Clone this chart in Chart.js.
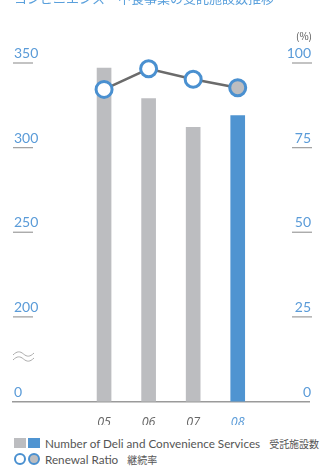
<!DOCTYPE html>
<html>
<head>
<meta charset="utf-8">
<script src="https://cdn.jsdelivr.net/npm/chart.js@4"></script>
<style>
  html, body { margin: 0; padding: 0; background: #fff; }
  #wrap { position: relative; width: 320px; height: 466px; overflow: hidden; }
  #chart { position: absolute; left: 0; top: 0; }
  .legend { position: absolute; left: 14px; font-family: Lato, "Noto Sans", sans-serif; color: #555; font-size: 11.7px; white-space: nowrap; }
  .legend .sw { display: inline-block; vertical-align: middle; }
  .legend .sq { width: 12px; height: 10px; margin-right: 2px; }
  .legend .ring { width: 8px; height: 8px; border: 2.5px solid #4a90d0; border-radius: 50%; margin-right: 2px; }
  .legend .txt { vertical-align: middle; margin-left: 3px; }
  .legend .jp { font-family: "Noto Sans CJK JP", sans-serif; font-size: 10px; margin-left: 9px; vertical-align: middle; }
</style>
</head>
<body>
<div id="wrap">
  <canvas id="chart" width="320" height="425"></canvas>
  <div class="legend" style="top:434px">
    <span class="sw sq" style="background:#bcbdc0"></span><span class="sw sq" style="background:#4f94d1"></span><span class="txt">Number of Deli and Convenience Services</span><span class="jp">受託施設数</span>
  </div>
  <div class="legend" style="top:450px">
    <span class="sw ring" style="background:#fff"></span><span class="sw ring" style="background:#bcbdc0"></span><span class="txt">Renewal Ratio</span><span class="jp">継続率</span>
  </div>
</div>
<script>
// 年度と値
const years = ['05', '06', '07', '08'];
const facilities = [347, 329, 312, 319];
const renewalRatio = [92.2, 98.3, 95.2, 92.7];

// 左軸は 150 で省略（0 と表示）
const leftTicks = [150, 200, 250, 300, 350];
const leftTickLabels = ['0', '200', '250', '300', '350'];
const rightTicks = [0, 25, 50, 75, 100];

const BLUE = '#4f94d1';
const GREY = '#bcbdc0';
const LABEL_BLUE = '#5a9bd8';
const RULE = '#a3a3a3';

const yearX = years.map(y => parseInt(y, 10));

const axisDecor = {
    id: 'axisDecor',
    afterDraw(chart) {
        const ctx = chart.ctx;
        const yL = chart.scales.yL;
        const yR = chart.scales.yR;
        ctx.save();

        // タイトル（上端で切れている）
        ctx.font = '13px "Noto Sans CJK JP"';
        ctx.fillStyle = '#5aa0dc';
        ctx.textAlign = 'left';
        ctx.textBaseline = 'alphabetic';
        ctx.fillText('コンビニエンス・中食事業の受託施設数推移', 14, 3);

        ctx.font = '14px Lato';
        ctx.lineWidth = 1.3;
        ctx.strokeStyle = RULE;

        leftTicks.forEach((v, i) => {
            const y = yL.getPixelForValue(v);
            ctx.fillStyle = LABEL_BLUE;
            ctx.textAlign = 'left';
            ctx.fillText(leftTickLabels[i], 14, y - 5);
            if (i > 0) {
                ctx.beginPath();
                ctx.moveTo(13, y);
                ctx.lineTo(33, y);
                ctx.stroke();
            }
        });

        rightTicks.forEach((v, i) => {
            const y = yR.getPixelForValue(v);
            ctx.fillStyle = LABEL_BLUE;
            ctx.textAlign = 'right';
            ctx.fillText(String(v), 311, y - 5);
            if (i > 0) {
                ctx.beginPath();
                ctx.moveTo(292, y);
                ctx.lineTo(312, y);
                ctx.stroke();
            }
        });

        // 省略記号
        ctx.strokeStyle = '#aaa';
        ctx.lineWidth = 1;
        [354, 359].forEach(y => {
            ctx.beginPath();
            ctx.moveTo(13, y + 1);
            ctx.bezierCurveTo(17, y - 3, 20, y - 3, 23.5, y);
            ctx.bezierCurveTo(27, y + 3, 30, y + 3, 34, y - 1);
            ctx.stroke();
        });

        ctx.font = '10px "Noto Sans CJK JP"';
        ctx.fillStyle = '#555';
        ctx.textAlign = 'right';
        ctx.fillText('(%)', 312, 40);
        ctx.restore();
    }
};

new Chart(document.getElementById('chart'), {
    type: 'bar',
    data: {
        datasets: [{
            type: 'line',
            data: yearX.map((x, i) => ({ x: x, y: renewalRatio[i] })),
            yAxisID: 'yR',
            borderColor: '#6b6b6b',
            borderWidth: 2.5,
            pointRadius: 8,
            pointBorderWidth: 3,
            pointBorderColor: '#4a90d0',
            pointBackgroundColor: ['#fff', '#fff', '#fff', GREY],
            clip: false,
            order: 0
        }, {
            data: yearX.map((x, i) => ({ x: x, y: facilities[i] })),
            yAxisID: 'yL',
            backgroundColor: [GREY, GREY, GREY, BLUE],
            barThickness: 14,
            order: 1
        }]
    },
    options: {
        responsive: false,
        devicePixelRatio: 1,
        animation: false,
        layout: { padding: { left: 13, right: 8, top: 63, bottom: 0 } },
        plugins: { legend: { display: false }, tooltip: { enabled: false } },
        scales: {
            x: {
                type: 'linear',
                offset: false,
                min: 2.956,
                max: 9.6,
                afterBuildTicks: scale => { scale.ticks = yearX.map(v => ({ value: v })); },
                afterFit: scale => { scale.height = 23.5; },
                grid: { display: false },
                border: { display: true, color: '#9a9a9a', width: 1.5 },
                ticks: {
                    padding: 5,
                    font: { family: '"Open Sans"', size: 12.5, style: 'italic' },
                    color: ctx => ctx.index === years.length - 1 ? LABEL_BLUE : '#666',
                    callback: (value, index) => years[index]
                }
            },
            yL: {
                position: 'left',
                display: false,
                min: 150,
                max: 350
            },
            yR: {
                position: 'right',
                display: false,
                min: 0,
                max: 100
            }
        }
    },
    plugins: [axisDecor]
});
</script>
</body>
</html>
